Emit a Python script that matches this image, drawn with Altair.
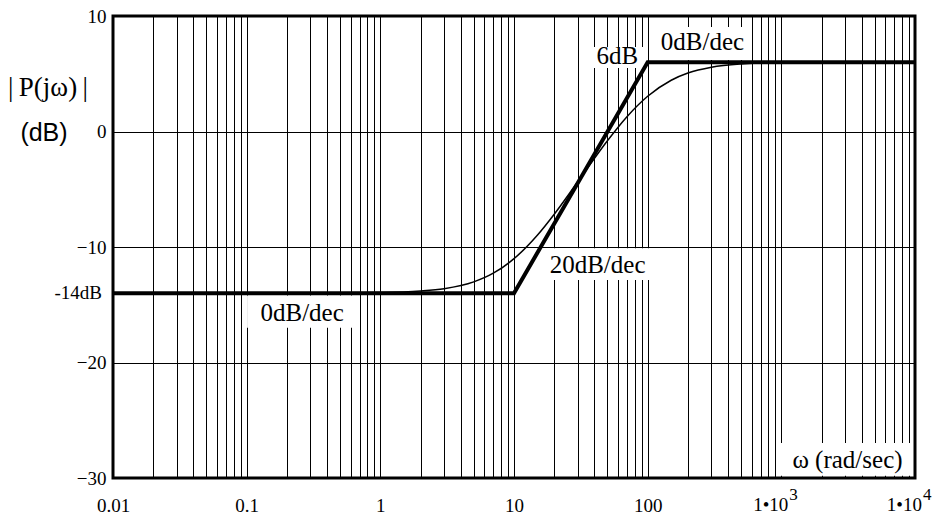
import altair as alt
import pandas as pd

# Asymptotic (straight-line) Bode magnitude
asym_w = [0.01, 10, 100, 10000]
asym_db = [-14, -14, 6, 6]

# Exact magnitude curve
curve_w = [0.01, 0.1, 0.5, 1, 2, 3, 5, 7, 10, 15, 20, 30, 50, 70, 100, 150, 200,
           300, 500, 700, 1000, 3000, 10000]
curve_db = [-13.98, -13.98, -13.97, -13.94, -13.81, -13.61, -13.02, -12.27, -11.01,
            -8.96, -7.16, -4.35, -0.80, 1.28, 3.05, 4.44, 5.06, 5.57, 5.85, 5.93,
            5.98, 6.01, 6.02]

# Axis ticks
y_ticks = [-30, -20, -10, 0, 10]
x_decades = [0.01, 0.1, 1, 10, 100]
x_labels = ["0.01", "0.1", "1", "10", "100"]
pow_w = [1000, 10000]
pow_base = ["1•10", "1•10"]
pow_exp = ["3", "4"]
x_grid = [k * 10.0 ** n for n in range(-2, 4) for k in range(1, 10)] + [10000]

# Annotations inside the plot (with white boxes)
ann_text = ["0dB/dec", "20dB/dec", "6dB", "0dB/dec", "ω (rad/sec)"]
ann_w = [0.26, 42.2, 59.4, 257, 3126]
ann_db = [-15.7, -11.56, 6.54, 7.75, -28.44]
box_w1 = [0.1007, 16.2, 39, 104, 944]
box_w2 = [0.645, 104, 92.3, 603, 9490]
box_db1 = [-14.2, -10.1, 7.32, 9.05, -26.97]
box_db2 = [-17.0, -12.86, 5.5, 6.19, -29.8]

asym = pd.DataFrame({"w": asym_w, "db": asym_db})
curve = pd.DataFrame({"w": curve_w, "db": curve_db})
ann = pd.DataFrame({"t": ann_text, "w": ann_w, "db": ann_db,
                    "w1": box_w1, "w2": box_w2, "d1": box_db1, "d2": box_db2})
pw = pd.DataFrame({"w": pow_w, "b": pow_base, "e": pow_exp, "db": [-30, -30]})

expr = "''"
for v, lab in reversed(list(zip(x_decades, x_labels))):
    expr = f"(abs(datum.value - {v}) < {v}*1e-6) ? '{lab}' : ({expr})"

serif = "Liberation Serif"
x_scale = alt.Scale(type="log", domain=[0.01, 10000], nice=False)
y_scale = alt.Scale(domain=[-30, 10], nice=False)
x_axis = alt.Axis(values=x_grid, labelExpr=expr, ticks=False, domain=False, grid=True,
                  gridColor="black", gridWidth=1, gridOpacity=1, labelFont=serif,
                  labelFontSize=19, labelPadding=18, labelOverlap=False,
                  labelFlush=False, labelColor="black", labelBaseline="top", title=None)
y_axis = alt.Axis(values=y_ticks, ticks=False, domain=False, grid=True,
                  gridColor="black", gridWidth=1, gridOpacity=1, labelFont=serif,
                  labelFontSize=19, labelPadding=7, labelFlush=False,
                  labelColor="black", title=None)

X = lambda f: alt.X(f, type="quantitative", scale=x_scale, axis=x_axis)
Y = lambda f: alt.Y(f, type="quantitative", scale=y_scale, axis=y_axis)

boxes = alt.Chart(ann).mark_rect(fill="white", stroke=None).encode(
    x=X("w1"), x2="w2", y=Y("d1"), y2="d2")

curve_line = alt.Chart(curve).mark_line(color="black", strokeWidth=1.5,
                                        interpolate="monotone").encode(
    x=X("w"), y=Y("db"))

asym_line = alt.Chart(asym).mark_line(color="black", strokeWidth=4).encode(
    x=X("w"), y=Y("db"))

texts = alt.Chart(ann).mark_text(font=serif, fontSize=25, color="black",
                                 align="center", baseline="middle").encode(
    x=X("w"), y=Y("db"), text="t:N")

pow_base_t = alt.Chart(pw).mark_text(font=serif, fontSize=19, color="black",
                                     align="right", baseline="top", dx=7, dy=18).encode(
    x=X("w"), y=Y("db"), text="b:N")
pow_exp_t = alt.Chart(pw).mark_text(font=serif, fontSize=17, color="black",
                                    align="left", baseline="top", dx=8, dy=9).encode(
    x=X("w"), y=Y("db"), text="e:N")

left_lab = pd.DataFrame({"t": ["-14dB"], "w": [0.01], "db": [-14]})
left14 = alt.Chart(left_lab).mark_text(font=serif, fontSize=19, color="black",
                                       align="right", baseline="middle", dx=-11).encode(
    x=X("w"), y=Y("db"), text="t:N")

ylab1 = pd.DataFrame({"t": ["|\u2009P(jω)\u2009|"], "w": [0.01], "db": [3.8]})
ytitle1 = alt.Chart(ylab1).mark_text(font=serif, fontSize=27, color="black",
                                     align="center", baseline="middle", dx=-65).encode(
    x=X("w"), y=Y("db"), text="t:N")

ylab2 = pd.DataFrame({"t": ["(dB)"], "w": [0.01], "db": [-0.1]})
ytitle2 = alt.Chart(ylab2).mark_text(font="Liberation Sans", fontSize=25, color="black",
                                     align="center", baseline="middle", dx=-69).encode(
    x=X("w"), y=Y("db"), text="t:N")

chart = alt.layer(boxes, curve_line, asym_line, texts, pow_base_t, pow_exp_t,
                  left14, ytitle1, ytitle2).properties(
    width=802, height=462,
    autosize=alt.AutoSizeParams(type="none"),
    padding={"left": 113, "top": 16, "right": 35, "bottom": 42},
    background="white",
).configure_view(stroke="black", strokeWidth=3)

chart.save("out.html", embed_options={"renderer": "svg", "actions": False})
